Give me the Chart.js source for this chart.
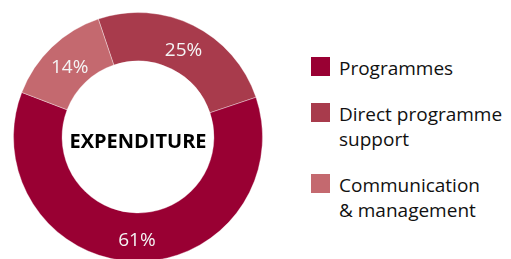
<!DOCTYPE html>
<html>
<head>
<meta charset="utf-8">
<script src="https://cdn.jsdelivr.net/npm/chart.js@4"></script>
<style>
  html, body { margin: 0; padding: 0; background: #fff; overflow: hidden; width: 511px; height: 259px; }
  #wrap { position: absolute; left: 0; top: 0; width: 276px; height: 274px; }
  #legend { position: absolute; left: 311px; top: 0; font-family: "Open Sans", Lato, sans-serif; font-size: 19px; color: #111; }
  .item { position: absolute; padding-left: 28px; width: 200px; line-height: 25px; white-space: pre-line; }
  .box { position: absolute; left: 0; top: 1px; width: 19px; height: 19px; }
</style>
</head>
<body>
<div id="wrap"><canvas id="donut" width="276" height="274"></canvas></div>
<div id="legend"></div>
<script>
const categories = ["Programmes", "Direct programme\nsupport", "Communication\n& management"];
const values = [61, 25, 14];
const colors = ["#990033", "#A83B4C", "#C4696F"];
// clockwise drawing order, starting from the top-left edge of the 25% slice
const drawOrder = [1, 0, 2];

const legend = document.getElementById("legend");
const itemTops = [56, 102, 173];
categories.forEach((name, i) => {
  const item = document.createElement("div");
  item.className = "item";
  item.style.top = itemTops[i] + "px";
  item.innerHTML = `<span class="box" style="background:${colors[i]}"></span>${name}`;
  legend.appendChild(item);
});

const sliceLabels = {
  id: "sliceLabels",
  afterDatasetsDraw(chart) {
    const ctx = chart.ctx;
    const meta = chart.getDatasetMeta(0);
    ctx.save();
    ctx.font = "19px 'Open Sans', Lato, sans-serif";
    ctx.fillStyle = "#f4f4f4";
    ctx.textAlign = "center";
    ctx.textBaseline = "middle";
    meta.data.forEach((arc, i) => {
      const p = arc.tooltipPosition();
      ctx.fillText(chart.data.datasets[0].data[i] + "%", p.x + 1, p.y + 3);
    });
    ctx.font = "bold 20px 'Open Sans', Lato, sans-serif";
    ctx.fillStyle = "#000";
    const c = meta.data[0];
    ctx.fillText("EXPENDITURE", c.x, c.y + 5);
    ctx.restore();
  }
};

new Chart(document.getElementById("donut"), {
  type: "doughnut",
  data: {
    labels: drawOrder.map((i) => categories[i].replace("\n", " ")),
    datasets: [{
      data: drawOrder.map((i) => values[i]),
      backgroundColor: drawOrder.map((i) => colors[i]),
      borderColor: "rgba(255,255,255,0.35)",
      borderWidth: 1
    }]
  },
  options: {
    responsive: false,
    animation: false,
    cutout: "61%",
    rotation: -18.6,
    layout: { padding: 12 },
    plugins: { legend: { display: false }, tooltip: { enabled: false } }
  },
  plugins: [sliceLabels]
});
</script>
</body>
</html>
